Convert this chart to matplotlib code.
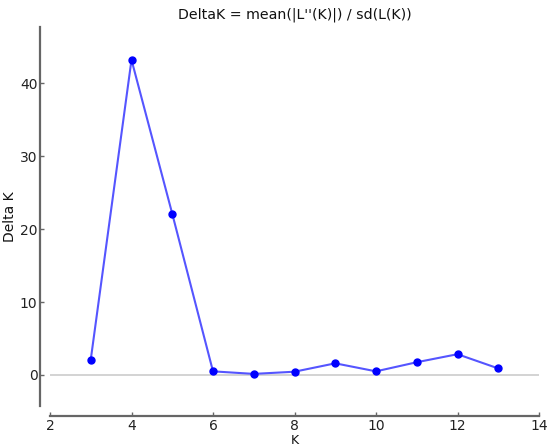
import matplotlib
matplotlib.use('Agg')
import matplotlib.pyplot as plt

# Delta K per K
k_values = [3, 4, 5, 6, 7, 8, 9, 10, 11, 12, 13]
delta_k = [2.1, 43.2, 22.1, 0.5, 0.15, 0.45, 1.6, 0.5, 1.75, 2.85, 0.9]
x_ticks = [2, 4, 6, 8, 10, 12, 14]
y_ticks = [0, 10, 20, 30, 40]

W, H = 550, 447
fig = plt.figure(figsize=(W / 100, H / 100), dpi=100)

# axes box in pixels: x 50..539, y 27..406 (from top)
ax = fig.add_axes([50 / W, 1 - 406 / H, (539 - 50) / W, (406 - 27) / H])

ax.axhline(0, color='#cccccc', lw=1.2, zorder=1)
ax.plot(k_values, delta_k, '-', color='#5555ff', lw=1.5, zorder=2)
ax.plot(k_values, delta_k, 'o', color='#0000ff', ms=5, zorder=3)

ax.set_xlim(2, 14)
ax.set_ylim(-4.25, 47.7)
ax.set_xticks(x_ticks)
ax.set_yticks(y_ticks)

for side in ['top', 'right']:
    ax.spines[side].set_visible(False)
for side in ['left', 'bottom']:
    ax.spines[side].set_color('#666666')
    ax.spines[side].set_linewidth(1.6)
    ax.spines[side].set_position(('outward', 7))

ax.tick_params(direction='in', length=3, width=1, color='#666666',
               labelsize=10, labelcolor='#222222', pad=2)

ax.set_title("DeltaK = mean(|L''(K)|) / sd(L(K))", fontsize=10.2, pad=6,
             color='#111111')
ax.set_ylabel('Delta K', fontsize=10, labelpad=2, color='#111111')
ax.set_xlabel('K', fontsize=9, labelpad=1, color='#111111')

fig.savefig('out.png', dpi=100)
